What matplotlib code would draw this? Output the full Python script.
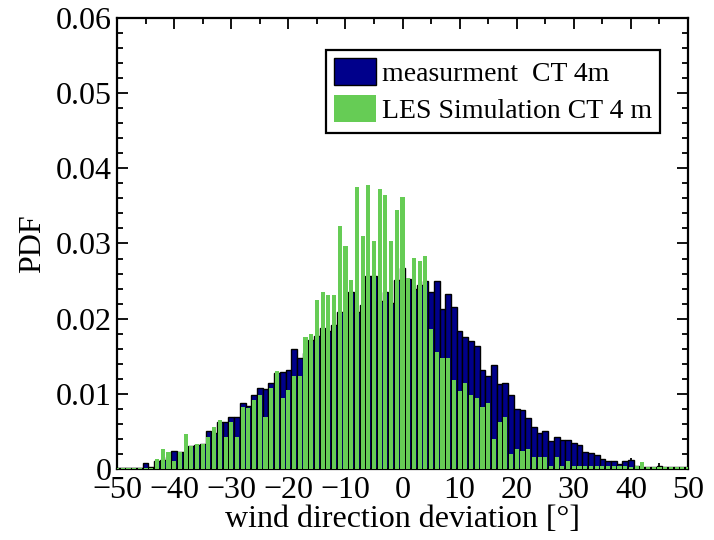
import numpy as np
import matplotlib
matplotlib.use("Agg")
import matplotlib.pyplot as plt
from matplotlib.ticker import MultipleLocator, FixedLocator, FixedFormatter

plt.rcParams['font.family'] = ['Liberation Serif', 'DejaVu Serif']

# wind direction deviation bins (deg), 1 degree wide, centred on integers
bins = np.arange(-50, 51)

# measurement CT 4m
pdf_meas = [
    0.0001, 0.0001, 0.0001, 0.0001, 0.0001, 0.0008, 0.0002, 0.0010, 0.0012, 0.0016,  # -50..-41
    0.0024, 0.0023, 0.0023, 0.0030, 0.0032, 0.0033, 0.0051, 0.0048, 0.0063, 0.0062,  # -40..-31
    0.0069, 0.0069, 0.0088, 0.0084, 0.0098, 0.0108, 0.0106, 0.0114, 0.0128, 0.0129,  # -30..-21
    0.0132, 0.0160, 0.0147, 0.0154, 0.0172, 0.0177, 0.0188, 0.0184, 0.0192, 0.0209,  # -20..-11
    0.0205, 0.0236, 0.0209, 0.0218, 0.0257, 0.0257, 0.0223, 0.0236, 0.0221, 0.0252,  # -10..-1
    0.0267,                                                                          # 0
    0.0253, 0.0240, 0.0245, 0.0250, 0.0236, 0.0250, 0.0213, 0.0233, 0.0215, 0.0184,  # 1..10
    0.0176, 0.0170, 0.0164, 0.0132, 0.0124, 0.0139, 0.0113, 0.0114, 0.0098, 0.0080,  # 11..20
    0.0078, 0.0068, 0.0056, 0.0048, 0.0050, 0.0037, 0.0043, 0.0039, 0.0039, 0.0034,  # 21..30
    0.0032, 0.0022, 0.0021, 0.0018, 0.0013, 0.0011, 0.0011, 0.0007, 0.0010, 0.0012,  # 31..40
    0.0004, 0.0003, 0.0002, 0.0002, 0.0004, 0.0003, 0.0003, 0.0002, 0.0002, 0.0002,  # 41..50
]

# LES simulation CT 4 m
pdf_les = [
    0.0001, 0.0001, 0.0001, 0.0001, 0.0001, 0.0001, 0.0001, 0.0013, 0.0027, 0.0023,  # -50..-41
    0.0010, 0.0023, 0.0046, 0.0030, 0.0033, 0.0033, 0.0042, 0.0056, 0.0065, 0.0042,  # -40..-31
    0.0062, 0.0042, 0.0082, 0.0081, 0.0092, 0.0099, 0.0069, 0.0108, 0.0131, 0.0095,  # -30..-21
    0.0105, 0.0124, 0.0124, 0.0176, 0.0180, 0.0225, 0.0235, 0.0232, 0.0232, 0.0323,  # -20..-11
    0.0296, 0.0251, 0.0375, 0.0310, 0.0378, 0.0303, 0.0372, 0.0365, 0.0303, 0.0345,  # -10..-1
    0.0362,                                                                          # 0
    0.0254, 0.0281, 0.0277, 0.0284, 0.0186, 0.0156, 0.0147, 0.0147, 0.0118, 0.0104,  # 1..10
    0.0115, 0.0098, 0.0095, 0.0082, 0.0088, 0.0040, 0.0063, 0.0069, 0.0020, 0.0027,  # 11..20
    0.0024, 0.0027, 0.0016, 0.0016, 0.0016, 0.0004, 0.0016, 0.0004, 0.0011, 0.0004,  # 21..30
    0.0004, 0.0004, 0.0004, 0.0004, 0.0004, 0.0004, 0.0004, 0.0004, 0.0004, 0.0002,  # 31..40
    0.0004, 0.0009, 0.0002, 0.0002, 0.0002, 0.0002, 0.0002, 0.0002, 0.0002, 0.0002,  # 41..50
]

navy = '#00008b'
green = '#66cc55'

fig = plt.figure(figsize=(7.14, 5.4), dpi=100)
ax = fig.add_axes([0.164, 0.1315, 0.7996, 0.8352])

ax.bar(bins, pdf_meas, width=1.0, color=navy, edgecolor='black', linewidth=1.0,
       label='measurment  CT 4m', zorder=2)
ax.bar(bins, pdf_les, width=0.72, color=green, linewidth=0,
       label='LES Simulation CT 4 m', zorder=3)

ax.set_xlim(-50, 50)
ax.set_ylim(0, 0.06)

ax.xaxis.set_major_locator(MultipleLocator(10))
ax.xaxis.set_minor_locator(MultipleLocator(5))
yt = [0, 0.01, 0.02, 0.03, 0.04, 0.05, 0.06]
ax.yaxis.set_major_locator(FixedLocator(yt))
ax.yaxis.set_major_formatter(FixedFormatter(['0', '0.01', '0.02', '0.03', '0.04', '0.05', '0.06']))
ax.yaxis.set_minor_locator(MultipleLocator(0.002))

ax.tick_params(which='both', direction='in', top=True, right=True, width=1.3,
               labelsize=23)
ax.tick_params(axis='x', pad=5)
ax.tick_params(axis='y', pad=4)
ax.tick_params(which='major', length=8)
ax.tick_params(which='minor', length=4)
for s in ax.spines.values():
    s.set_linewidth(1.6)

ax.set_xlabel('wind direction deviation [°]', fontsize=23, labelpad=0)
ax.set_ylabel('PDF', fontsize=23, labelpad=6)

leg = ax.legend(loc='upper right', fontsize=20, frameon=True, fancybox=False,
                edgecolor='black', framealpha=1, borderpad=0.3, labelspacing=0.3,
                handlelength=1.5, handleheight=1.1, handletextpad=0.2,
                borderaxespad=0, bbox_to_anchor=(0.951, 0.929))
leg.get_frame().set_linewidth(1.6)

fig.savefig('out.png', dpi=100)
